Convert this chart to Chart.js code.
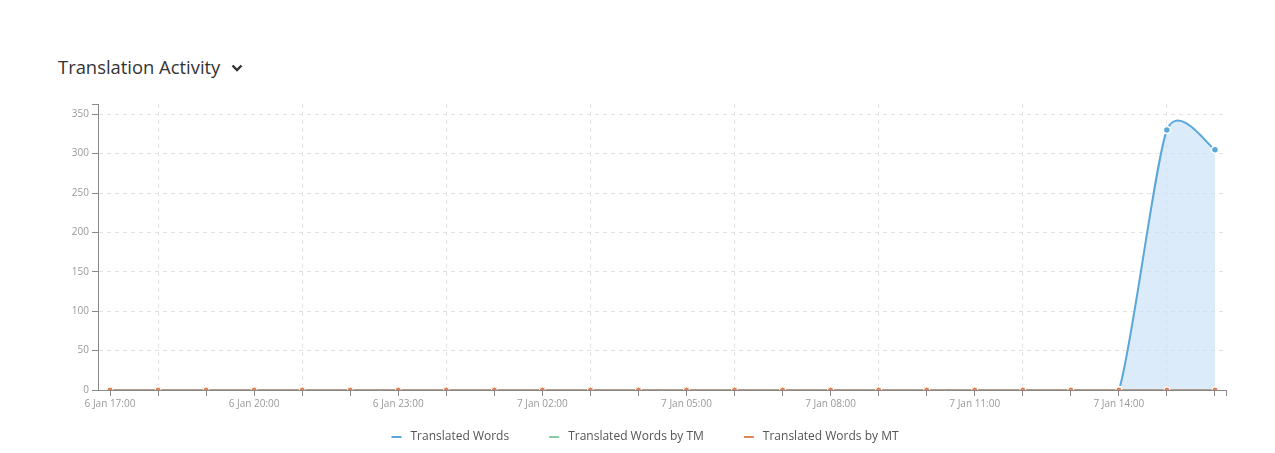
<!DOCTYPE html>
<html>
<head>
<meta charset="utf-8">
<script src="https://cdn.jsdelivr.net/npm/chart.js@4/dist/chart.umd.min.js"></script>
<style>
  html, body { margin: 0; padding: 0; background: #fff; }
  body { width: 1275px; height: 453px; position: relative; overflow: hidden; font-family: "Open Sans", sans-serif; }
  h2 { position: absolute; left: 58px; top: 54px; margin: 0; font-size: 18.4px; font-weight: 500; color: #333; }
  h2 svg { margin-left: 11px; vertical-align: 2px; }
  #wrap { position: absolute; left: 0; top: 0; width: 1275px; height: 453px; }
</style>
</head>
<body>
<h2>Translation Activity<svg width="12" height="8" viewBox="0 0 12 8"><path d="M1.5 1.5 L6 6 L10.5 1.5" fill="none" stroke="#333" stroke-width="2.4"/></svg></h2>
<div id="wrap"><canvas id="activity"></canvas></div>
<script>
const hours = [
  "6 Jan 17:00", "6 Jan 18:00", "6 Jan 19:00", "6 Jan 20:00", "6 Jan 21:00", "6 Jan 22:00",
  "6 Jan 23:00", "7 Jan 00:00", "7 Jan 01:00", "7 Jan 02:00", "7 Jan 03:00", "7 Jan 04:00",
  "7 Jan 05:00", "7 Jan 06:00", "7 Jan 07:00", "7 Jan 08:00", "7 Jan 09:00", "7 Jan 10:00",
  "7 Jan 11:00", "7 Jan 12:00", "7 Jan 13:00", "7 Jan 14:00", "7 Jan 15:00", "7 Jan 16:00"
];
const translatedWords = [0, 0, 0, 0, 0, 0, 0, 0, 0, 0, 0, 0, 0, 0, 0, 0, 0, 0, 0, 0, 0, 0, 330, 305];
const translatedByTM  = [0, 0, 0, 0, 0, 0, 0, 0, 0, 0, 0, 0, 0, 0, 0, 0, 0, 0, 0, 0, 0, 0, 0, 0];
const translatedByMT  = [0, 0, 0, 0, 0, 0, 0, 0, 0, 0, 0, 0, 0, 0, 0, 0, 0, 0, 0, 0, 0, 0, 0, 0];
const yTicks = [0, 50, 100, 150, 200, 250, 300, 350];

const xMin = -0.25, xMax = 23.23, yMax = 363;
const pts = arr => arr.map((v, i) => ({ x: i, y: v }));

// legend marker: short dash at the right end of a wider box (gives the wide item spacing)
function dashMarker(color) {
  const c = document.createElement("canvas");
  c.width = 33; c.height = 2;
  const g = c.getContext("2d");
  g.fillStyle = color;
  g.fillRect(20, 0, 10, 2);
  return c;
}

// cardinal-style spline: control points from neighbouring point pixels
const cardinalSpline = {
  id: "cardinalSpline",
  afterDatasetsUpdate(chart) {
    const k = 0.12;
    const meta = chart.getDatasetMeta(0);
    const p = meta.data;
    p.forEach((pt, i) => {
      const a = p[i - 1] || pt, b = p[i + 1] || pt;
      const tx = k * (b.x - a.x), ty = k * (b.y - a.y);
      pt.cp1x = pt.x - tx; pt.cp1y = pt.y - ty;
      pt.cp2x = pt.x + tx; pt.cp2y = pt.y + ty;
    });
    meta.dataset._pointsUpdated = true;
  }
};

// nudge the legend a little left so it sits where the original does
const legendNudge = {
  id: "legendNudge",
  afterLayout(chart) {
    chart.legend.left -= 7;
    chart.legend.right -= 7;
  }
};

new Chart(document.getElementById("activity"), {
  type: "line",
  data: {
    datasets: [
      {
        label: "Translated Words",
        data: pts(translatedWords),
        borderColor: "#5aa7d9",
        backgroundColor: "#5aa7d9",
        fill: { target: "origin", above: "rgba(200,225,247,0.65)" },
        borderWidth: 2,
        tension: 0.4,
        pointRadius: 3.5,
        pointBorderColor: "#fff",
        pointBorderWidth: 1.5,
        order: 3
      },
      {
        label: "Translated Words by TM",
        data: pts(translatedByTM),
        borderColor: "#86c9a4",
        backgroundColor: "#86c9a4",
        fill: false,
        borderWidth: 2,
        pointRadius: 3,
        pointBorderColor: "#fff",
        pointBorderWidth: 1,
        order: 2
      },
      {
        label: "Translated Words by MT",
        data: pts(translatedByMT),
        borderColor: "#b59d8a",
        backgroundColor: "#e08458",
        fill: false,
        borderWidth: 2,
        pointRadius: 3,
        pointBorderColor: "#fff",
        pointBorderWidth: 1,
        order: 1
      }
    ]
  },
  options: {
    responsive: true,
    maintainAspectRatio: false,
    animation: false,
    layout: { padding: { left: 58, right: 49, top: 104, bottom: 0 } },
    plugins: {
      tooltip: { enabled: false },
      legend: {
        position: "bottom",
        labels: {
          usePointStyle: true,
          pointStyleWidth: 33,
          padding: 20,
          color: "#555",
          font: { family: "Open Sans", size: 12 },
          sort: (a, b) => a.datasetIndex - b.datasetIndex,
          generateLabels: chart => Chart.defaults.plugins.legend.labels.generateLabels(chart).map(l => ({
            ...l,
            pointStyle: dashMarker(chart.data.datasets[l.datasetIndex].backgroundColor)
          }))
        }
      }
    },
    scales: {
      x: {
        type: "linear",
        min: xMin,
        max: xMax,
        afterBuildTicks: s => {
          s.ticks = hours.map((_, i) => ({ value: i })).concat([{ value: xMax }]);
        },
        afterFit: s => { s.height = 21; },
        ticks: {
          autoSkip: false,
          maxRotation: 0,
          color: "#999",
          font: { family: "Open Sans", size: 10 },
          padding: 2,
          callback: v => (Number.isInteger(v) && v % 3 === 0) ? hours[v] : ""
        },
        grid: {
          color: c => (c.tick && Number.isInteger(c.tick.value) && c.tick.value % 3 === 1) ? "#e3e3e3" : "rgba(0,0,0,0)",
          tickColor: "#888",
          tickLength: 6,
          tickBorderDash: []
        },
        border: { color: "#888", width: 1, dash: [4, 4] }
      },
      y: {
        min: 0,
        max: yMax,
        afterBuildTicks: s => {
          s.ticks = yTicks.map(v => ({ value: v })).concat([{ value: yMax }]);
        },
        afterFit: s => { s.width = 40; },
        ticks: {
          color: "#999",
          font: { family: "Open Sans", size: 10 },
          padding: 3,
          callback: v => yTicks.includes(v) ? String(v) : ""
        },
        grid: {
          color: c => (c.tick && c.tick.value !== yMax && c.tick.value !== 0) ? "#e3e3e3" : "rgba(0,0,0,0)",
          tickColor: "#888",
          tickLength: 6,
          tickBorderDash: []
        },
        border: { color: "#888", width: 1, dash: [4, 4] }
      }
    }
  },
  plugins: [cardinalSpline, legendNudge]
});
</script>
</body>
</html>
